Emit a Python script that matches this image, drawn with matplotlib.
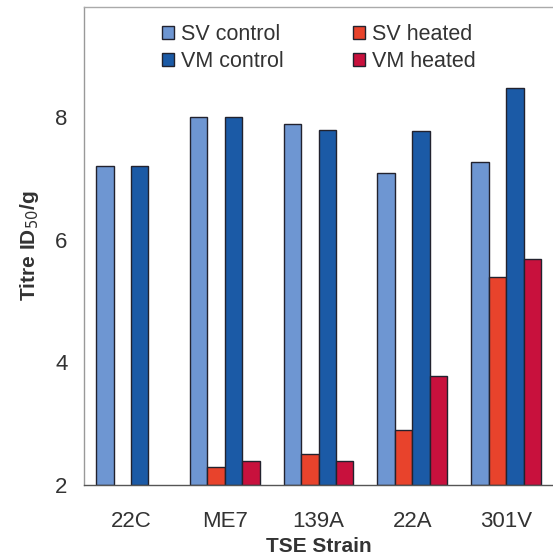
import matplotlib
matplotlib.use("Agg")
import matplotlib.pyplot as plt
import numpy as np

plt.rcParams['font.family'] = ['Liberation Sans', 'DejaVu Sans']

strains = ["22C", "ME7", "139A", "22A", "301V"]
sv_control = [7.2, 8.0, 7.89, 7.09, 7.27]
sv_heated = [np.nan, 2.29, 2.5, 2.9, 5.39]
vm_control = [7.2, 8.0, 7.79, 7.78, 8.47]
vm_heated = [np.nan, 2.39, 2.39, 3.78, 5.69]
series_names = ["SV control", "SV heated", "VM control", "VM heated"]
colors = ["#6e96d2", "#e8432c", "#1b5aa6", "#c8113d"]
yticks = [2, 4, 6, 8]

fig = plt.figure(figsize=(5.53, 5.6), dpi=100)
ax = fig.add_axes([0.152, 0.134, 0.848, 0.8535])

x = np.arange(len(strains))
w = 0.186
series = [sv_control, sv_heated, vm_control, vm_heated]
handles = []
for i, (vals, c, name) in enumerate(zip(series, colors, series_names)):
    vals = np.array(vals, dtype=float)
    h = ax.bar(x + (i - 1.5) * w, vals - 2, bottom=2, width=w, color=c,
               edgecolor="#22222e", linewidth=1.0, label=name)
    handles.append(h)

ax.set_xlim(-0.5, 4.5)
ax.set_ylim(2, 9.8)
ax.set_yticks(yticks)
ax.set_xticks(x)
ax.set_xticklabels(strains)
ax.tick_params(axis='both', length=0, labelsize=16, colors='#333333')
ax.tick_params(axis='y', pad=12)
ax.tick_params(axis='x', pad=19)

ax.spines['right'].set_visible(False)
ax.spines['top'].set_color('#aaaaaa')
ax.spines['left'].set_color('#999999')
ax.spines['bottom'].set_color('#555555')
for s in ['top', 'left', 'bottom']:
    ax.spines[s].set_linewidth(1.0)

ax.set_xlabel("TSE Strain", fontsize=15, fontweight='bold', color='#333333', labelpad=3)
ax.set_ylabel("Titre ID$_{50}$/g", fontsize=15, fontweight='bold', color='#333333', labelpad=10)

order = [0, 2, 1, 3]
leg = ax.legend([handles[i] for i in order], [series_names[i] for i in order],
                ncol=2, loc='upper left', bbox_to_anchor=(0.135, 0.995),
                frameon=False, fontsize=15.5, handlelength=0.55, handleheight=0.55,
                handletextpad=0.33, columnspacing=3.2, labelspacing=0.25,
                borderaxespad=0.3)
for t in leg.get_texts():
    t.set_color('#333333')

fig.savefig("out.png", dpi=100)
